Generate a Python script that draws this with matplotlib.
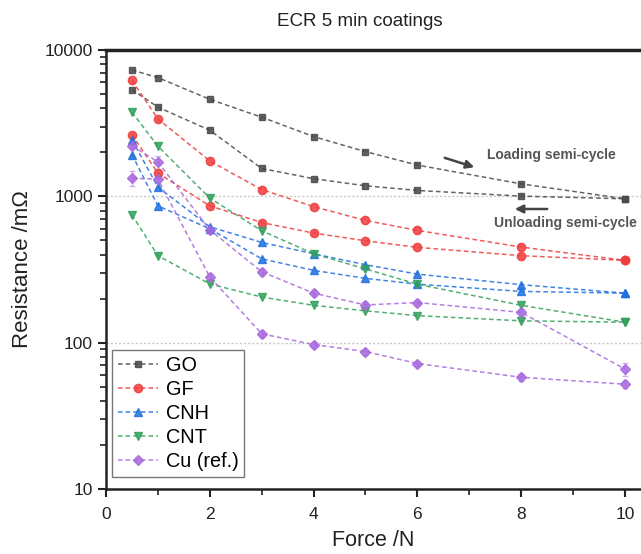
import matplotlib
matplotlib.use("Agg")
import matplotlib.pyplot as plt
from matplotlib.ticker import FixedLocator, LogLocator, NullFormatter, MultipleLocator

plt.rcParams['font.family'] = ['Liberation Sans', 'DejaVu Sans']

force = [0.5, 1, 2, 3, 4, 5, 6, 8, 10]

go_load = [7300, 6480, 4600, 3475, 2560, 2020, 1635, 1217, 962]
go_unload = [5360, 4070, 2830, 1550, 1320, 1180, 1097, 1003, 962]
gf_load = [6210, 3380, 1745, 1112, 851, 684, 585, 450, 365]
gf_unload = [2640, 1440, 861, 662, 561, 497, 448, 393, 365]
cnh_load = [2430, 1156, 620, 484, 405, 341, 294, 249, 218]
cnh_unload = [1930, 861, 600, 374, 312, 275, 251, 224, 218]
cnt_load = [3760, 2200, 973, 582, 405, 319, 251, 180, 138]
cnt_unload = [748, 393, 252, 205, 180, 165, 153, 141, 138]
cu_a = [1330, 1310, 281, 115, 97, 87, 72, 58, 52]
cu_b = [2220, 1718, 590, 305, 218, 181, 188, 161, 66]
cu_a_err = [150, 60, 15, 5, 4, 4, 3, 3, 3]
cu_b_err = [80, 180, 30, 15, 10, 8, 8, 8, 7]

labels = ['GO', 'GF', 'CNH', 'CNT', 'Cu (ref.)']
colors = ['#484848', '#f03c3c', '#1f6fe0', '#33a05c', '#a768dd']
markers = ['s', 'o', '^', 'v', 'D']
msizes = [5, 6, 6, 6, 5]
y_ticks = [10, 100, 1000, 10000]
y_ticklabels = ['10', '100', '1000', '10000']
x_ticks = [0, 2, 4, 6, 8, 10]

fig = plt.figure(figsize=(6.41, 5.54), dpi=100)
ax = fig.add_axes([106/641, 65/554, (641-106)/641, (489-50)/554])

series = [
    (go_load, go_unload, None, None),
    (gf_load, gf_unload, None, None),
    (cnh_load, cnh_unload, None, None),
    (cnt_load, cnt_unload, None, None),
    (cu_b, cu_a, cu_b_err, cu_a_err),
]

for (ya, yb, ea, eb), lab, c, m, ms in zip(series, labels, colors, markers, msizes):
    for i, (yy, ee) in enumerate(((ya, ea), (yb, eb))):
        if ee is not None:
            ax.errorbar(force, yy, yerr=ee, fmt='none', ecolor=c, alpha=0.5,
                        elinewidth=1, capsize=2, zorder=2)
        ax.plot(force, yy, linestyle=(0, (3, 2)), linewidth=1.1, color=c,
                alpha=0.85, marker=m, markersize=ms, markerfacecolor=c,
                markeredgecolor=c, label=lab if i == 0 else None, zorder=3)

for g in [100, 1000]:
    ax.axhline(g, color='#c8c8c8', linestyle=(0, (1.5, 1.5)), linewidth=1, zorder=1)

ax.set_yscale('log')
ax.set_ylim(10, 10000)
ax.set_xlim(0, (641-106)/51.9)
ax.yaxis.set_major_locator(FixedLocator(y_ticks))
ax.set_yticklabels(y_ticklabels)
ax.yaxis.set_minor_locator(LogLocator(base=10, subs=range(2, 10)))
ax.yaxis.set_minor_formatter(NullFormatter())
ax.set_xticks(x_ticks)
ax.xaxis.set_minor_locator(MultipleLocator(1))

ax.tick_params(axis='both', which='major', direction='out', length=6, width=1.5,
               labelsize=12.5, colors='#222222')
ax.tick_params(axis='both', which='minor', direction='out', length=4, width=1.2,
               colors='#222222')
ax.tick_params(axis='x', pad=7)

ax.spines['right'].set_visible(False)
for s in ['left', 'bottom']:
    ax.spines[s].set_linewidth(1.8)
    ax.spines[s].set_color('#222222')
ax.spines['top'].set_linewidth(2.5)
ax.spines['top'].set_color('#222222')

ax.set_xlabel('Force /N', fontsize=15.5, labelpad=6, color='#222222')
ax.set_ylabel('Resistance /mΩ', fontsize=16, labelpad=8, color='#222222')
fig.text(360/641, 1 - 22/554, 'ECR 5 min coatings', ha='center', va='center',
         fontsize=13.5, color='#222222')

# annotations
ax.annotate('', xy=(477, 554-168), xytext=(442, 554-157),
            xycoords='figure pixels', textcoords='figure pixels',
            arrowprops=dict(arrowstyle='-|>', color='#444444', lw=1.8,
                            mutation_scale=12))
ax.annotate('', xy=(512, 554-209), xytext=(550, 554-209),
            xycoords='figure pixels', textcoords='figure pixels',
            arrowprops=dict(arrowstyle='-|>', color='#444444', lw=1.8,
                            mutation_scale=12))
fig.text(487/641, 1 - 155/554, 'Loading semi-cycle', ha='left', va='center',
         fontsize=10, fontweight='bold', color='#555555')
fig.text(637/641, 1 - 223/554, 'Unloading semi-cycle', ha='right', va='center',
         fontsize=10, fontweight='bold', color='#555555')

leg = ax.legend(loc='lower left', bbox_to_anchor=(6/535, 12/439), fontsize=14.3,
                frameon=True, fancybox=False, edgecolor='#555555',
                handlelength=2.0, numpoints=1, borderpad=0.3, labelspacing=0.25,
                handletextpad=0.4, borderaxespad=0)
leg.get_frame().set_linewidth(1.0)

fig.savefig('out.png', dpi=100)
